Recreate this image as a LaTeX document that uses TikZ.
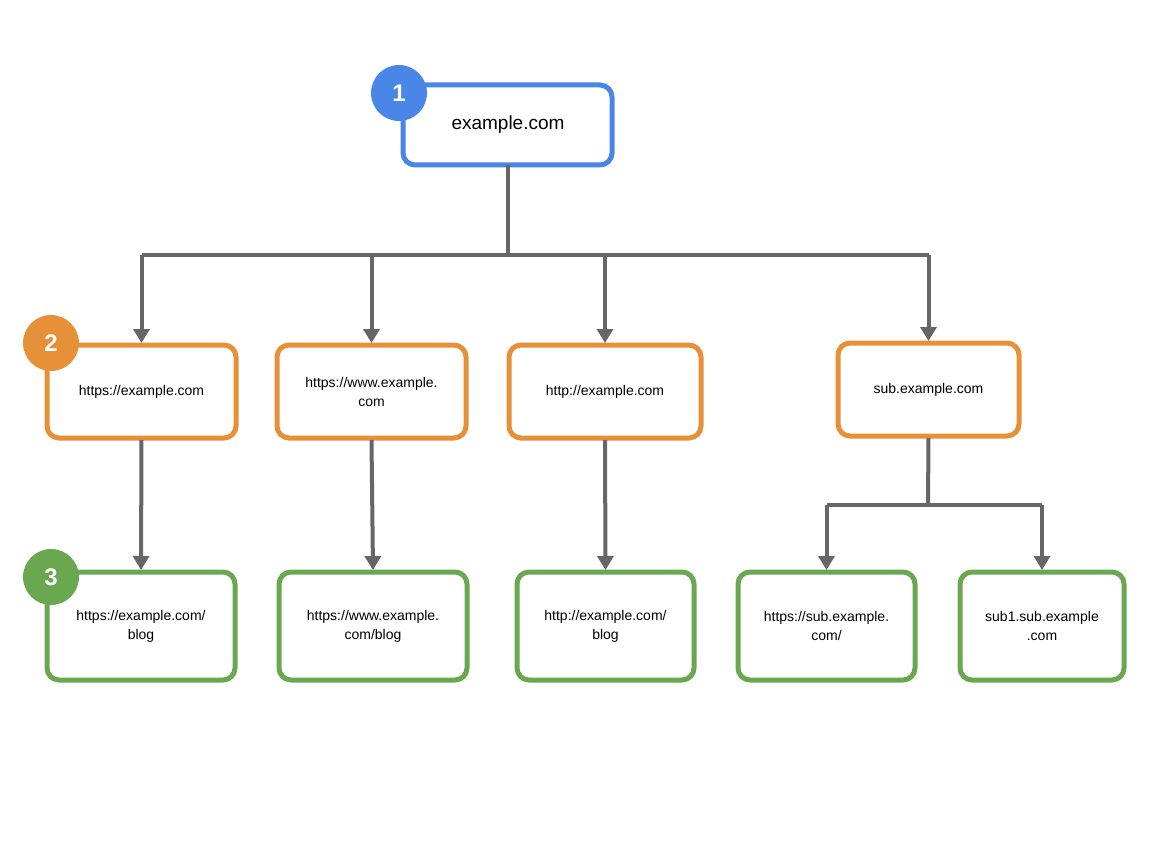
\documentclass[tikz,border=0pt]{standalone}
\usepackage{fontspec}
\setmainfont{Liberation Sans}
\usetikzlibrary{arrows.meta}
\definecolor{cblue}{HTML}{4A86E8}
\definecolor{corange}{HTML}{E69138}
\definecolor{cgreen}{HTML}{6AA84F}
\definecolor{cline}{HTML}{666666}
\begin{document}
\begin{tikzpicture}[x=1pt,y=-1pt,
  box/.style={draw=#1,line width=5pt,rounded corners=12pt,fill=white,align=center,font=\fontsize{14}{18}\selectfont},
  badge/.style={circle,fill=#1,text=white,minimum size=56pt,inner sep=0pt,font=\fontsize{24}{24}\selectfont\bfseries},
  conn/.style={draw=cline,line width=4pt,-{Triangle[length=14pt,width=16pt]}},
  plain/.style={draw=cline,line width=4pt}]
\useasboundingbox (0,0) rectangle (1152,864);
\path[box=cblue] (403,85) rectangle (612,165);
\node[font=\fontsize{19}{22}\selectfont] (root) at (508,125) {example.com};
\coordinate (rb) at (508,165);
\foreach \n/\x/\y/\X/\Y/\c/\t in {
 a/47/345/236/438/corange/{https://example.com},
 b/277/345/466/438/corange/{https://www.example.\\com},
 c/509/345/701/438/corange/{http://example.com},
 d/838/343/1019/436/corange/{sub.example.com},
 e/47/572/235/680/cgreen/{https://example.com/\\blog},
 f/279/572/467/680/cgreen/{https://www.example.\\com/blog},
 g/517/572/694/680/cgreen/{http://example.com/\\blog},
 h/738/572/915/680/cgreen/{https://sub.example.\\com/},
 i/960/572/1124/680/cgreen/{sub1.sub.example\\.com}}{
 \path[box=\c] (\x,\y) rectangle (\X,\Y);
 \node[align=center,font=\fontsize{14}{19}\selectfont] (\n) at ({(\x+\X)/2},{(\y+\Y)/2}) {\t};
 \coordinate (\n t) at ({(\x+\X)/2},\y-2);
 \coordinate (\n b) at ({(\x+\X)/2},\Y+2);
}
\node[badge=cblue] (b1) at (399,93) {1};
\node[badge=corange] (b2) at (51,343) {2};
\node[badge=cgreen] (b3) at (51,577) {3};
\coordinate (j1) at (508,255);
\draw[plain] (rb) -- (j1);
\draw[plain] (at |- j1) -- (dt |- j1);
\foreach \n in {a,b,c,d}{\draw[conn] (\n t |- j1) -- (\n t);}
\foreach \p/\q in {a/e,b/f,c/g}{\draw[conn] (\p b) -- (\q t);}
\coordinate (j2) at (928,505);
\draw[plain] (db) -- (j2);
\draw[plain] (ht |- j2) -- (it |- j2);
\draw[conn] (ht |- j2) -- (ht);
\draw[conn] (it |- j2) -- (it);
\end{tikzpicture}
\end{document}
